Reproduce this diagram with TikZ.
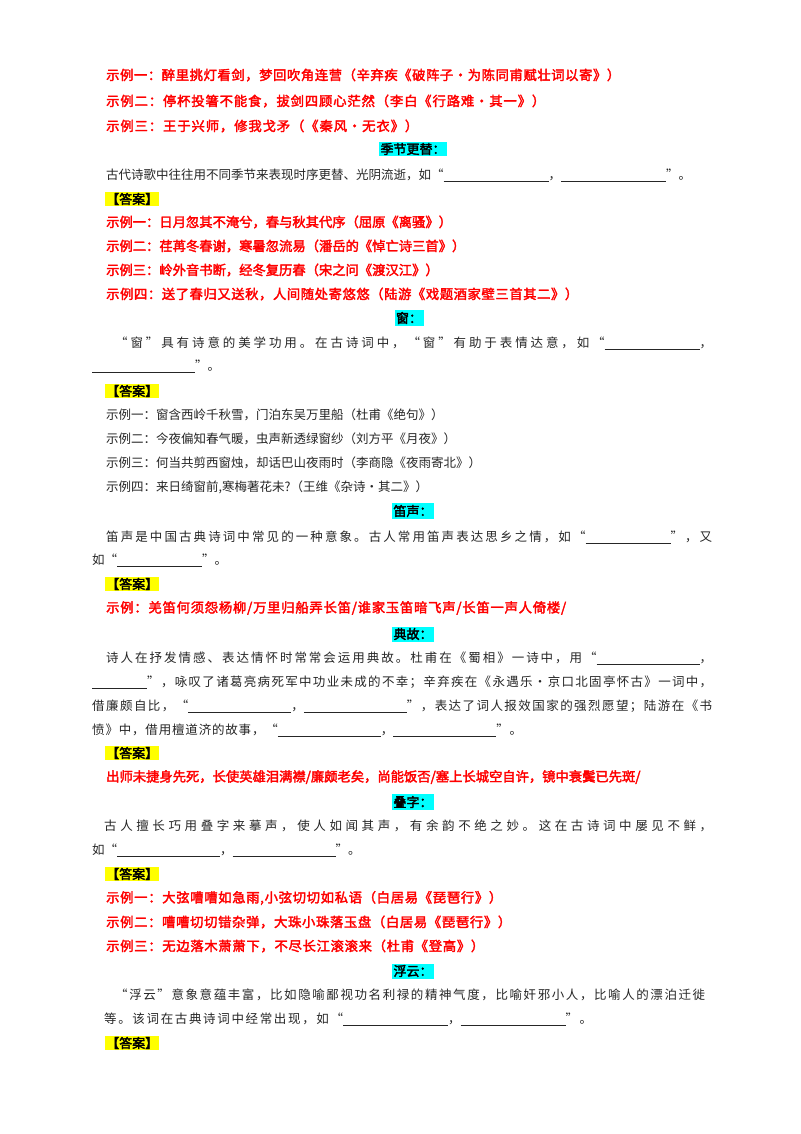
\documentclass[tikz,border=0pt]{standalone}
\usepackage{fontspec}
\newfontfamily\cjk[AutoFakeBold=2.5]{Noto Sans CJK SC}
\definecolor{cy}{RGB}{0,255,255}
\definecolor{ye}{RGB}{255,255,0}
\definecolor{rd}{RGB}{255,0,0}
\newcount\cc
\newcommand\setcls[2]{\cc=#1\relax\loop\XeTeXcharclass\cc=1\relax\advance\cc by 1\relax\ifnum\cc<#2\repeat}
\setcls{"4E00}{"A000}
\setcls{"3000}{"3040}
\setcls{"FF00}{"FF60}
\setcls{"2010}{"2030}
\XeTeXcharclass"00B7=1
\newcommand\bl[1]{\rule[-2pt]{#1pt}{0.5pt}}
\newcommand\jl[2]{\makebox[#1pt][s]{\XeTeXinterchartokenstate=1 #2}}
\XeTeXinterchartoks 1 1 = {\hskip0pt plus 1pt}
\XeTeXinterchartoks 1 0 = {\hskip0pt plus 1pt}
\XeTeXinterchartoks 0 1 = {\hskip0pt plus 1pt}
\begin{document}
\begin{tikzpicture}[x=1pt,y=-1pt,
 red/.style={anchor=west,inner sep=0,text=rd,font=\cjk\bfseries\fontsize{13.3}{15}\selectfont},
 body/.style={anchor=west,inner sep=0,text=black!85,font=\cjk\fontsize{12.5}{14}\selectfont},
 head/.style={fill=cy,inner sep=1.5pt,font=\cjk\bfseries\fontsize{13}{15}\selectfont},
 ans/.style={fill=ye,anchor=west,inner sep=1pt,font=\cjk\bfseries\fontsize{13}{15}\selectfont}]
\useasboundingbox[fill=white] (0,0) rectangle (800,1134);
\node[red] (r1) at (106,75) {\jl{514}{示例一：醉里挑灯看剑，梦回吹角连营（辛弃疾《破阵子·为陈同甫赋壮词以寄》）}};
\node[red] (r2) at (106,101) {\jl{439}{示例二：停杯投箸不能食，拔剑四顾心茫然（李白《行路难·其一》）}};
\node[red] (r3) at (106,126) {\jl{312}{示例三：王于兴师，修我戈矛（《秦风·无衣》）}};
\node[head] (h1) at (413,149) {季节更替：};
\node[body] (b1) at (106,175) {\jl{496}{古代诗歌中往往用不同季节来表现时序更替、光阴流逝，如“\bl{105}，\bl{105}”。}};
\node[ans] (a1) at (105,199) {【答案】};
\node[red] (r4) at (106,222) {\jl{289}{示例一：日月忽其不淹兮，春与秋其代序（屈原《离骚》）}};
\node[red] (r5) at (106,246) {\jl{314}{示例二：荏苒冬春谢，寒暑忽流易（潘岳的《悼亡诗三首》）}};
\node[red] (r6) at (106,270) {\jl{284}{示例三：岭外音书断，经冬复历春（宋之问《渡汉江》）}};
\node[red] (r7) at (106,294) {\jl{472}{示例四：送了春归又送秋，人间随处寄悠悠（陆游《戏题酒家壁三首其二》）}};
\node[head] (h2) at (409,318) {窗：};
\node[body] (b2) at (115,343) {\jl{597}{“窗”具有诗意的美学功用。在古诗词中，“窗”有助于表情达意，如“\bl{95}，}};
\node[body] (b3) at (92,366) {\bl{103}”。};
\node[ans] (a2) at (105,391) {【答案】};
\node[body] (k1) at (106,415) {\jl{300}{示例一：窗含西岭千秋雪，门泊东吴万里船（杜甫《绝句》）}};
\node[body] (k2) at (106,439) {\jl{314}{示例二：今夜偏知春气暖，虫声新透绿窗纱（刘方平《月夜》）}};
\node[body] (k3) at (106,463) {\jl{326}{示例三：何当共剪西窗烛，却话巴山夜雨时（李商隐《夜雨寄北》）}};
\node[body] (k4) at (106,487) {\jl{270}{示例四：来日绮窗前,寒梅著花未?（王维《杂诗·其二》）}};
\node[head] (h3) at (413,511) {笛声：};
\node[body] (b4) at (106,537) {\jl{606}{笛声是中国古典诗词中常见的一种意象。古人常用笛声表达思乡之情，如“\bl{85}”，又}};
\node[body] (b5) at (92,560) {如“\bl{85}”。};
\node[ans] (a3) at (105,584) {【答案】};
\node[red] (r8) at (106,608) {\jl{460}{示例：羌笛何须怨杨柳/万里归船弄长笛/谁家玉笛暗飞声/长笛一声人倚楼/}};
\node[head] (h4) at (413,634) {典故：};
\node[body] (b6) at (106,658) {\jl{606}{诗人在抒发情感、表达情怀时常常会运用典故。杜甫在《蜀相》一诗中，用“\bl{103}，}};
\node[body] (b7) at (92,682) {\jl{620}{\bl{55}”，咏叹了诸葛亮病死军中功业未成的不幸；辛弃疾在《永遇乐·京口北固亭怀古》一词中，}};
\node[body] (b8) at (92,706) {\jl{620}{借廉颇自比，“\bl{103}，\bl{103}”，表达了词人报效国家的强烈愿望；陆游在《书}};
\node[body] (b9) at (92,730) {\jl{430}{愤》中，借用檀道济的故事，“\bl{103}，\bl{103}”。}};
\node[ans] (a4) at (105,753) {【答案】};
\node[red] (r9) at (106,777) {\jl{506}{出师未捷身先死，长使英雄泪满襟/廉颇老矣，尚能饭否/塞上长城空自许，镜中衰鬓已先斑/}};
\node[head] (h5) at (413,802) {叠字：};
\node[body] (b10) at (104,826) {\jl{608}{古人擅长巧用叠字来摹声，使人如闻其声，有余韵不绝之妙。这在古诗词中屡见不鲜，}};
\node[body] (b11) at (92,850) {\jl{260}{如“\bl{103}，\bl{103}”。}};
\node[ans] (a5) at (105,874) {【答案】};
\node[red] (r10) at (106,898) {\jl{396}{示例一：大弦嘈嘈如急雨,小弦切切如私语（白居易《琵琶行》）}};
\node[red] (r11) at (106,922) {\jl{405}{示例二：嘈嘈切切错杂弹，大珠小珠落玉盘（白居易《琵琶行》）}};
\node[red] (r12) at (106,946) {\jl{378}{示例三：无边落木萧萧下，不尽长江滚滚来（杜甫《登高》）}};
\node[head] (h6) at (413,971) {浮云：};
\node[body] (b12) at (115,995) {\jl{590}{“浮云”意象意蕴丰富，比如隐喻鄙视功名利禄的精神气度，比喻奸邪小人，比喻人的漂泊迁徙}};
\node[body] (b13) at (104,1019) {\jl{488}{等。该词在古典诗词中经常出现，如“\bl{105}，\bl{105}”。}};
\node[ans] (a6) at (105,1043) {【答案】};
\end{tikzpicture}
\end{document}
